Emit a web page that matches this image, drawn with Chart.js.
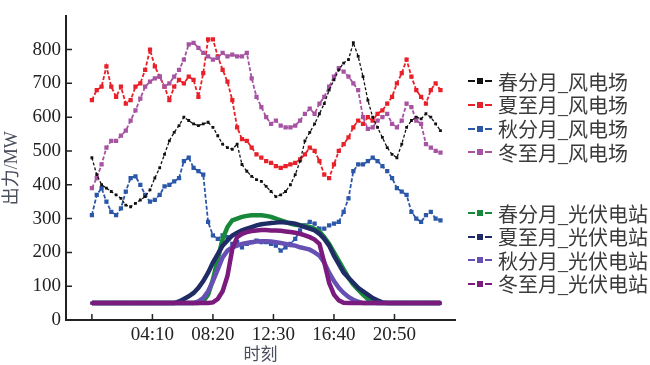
<!DOCTYPE html>
<html>
<head>
<meta charset="utf-8">
<script src="https://cdn.jsdelivr.net/npm/chart.js@4.4.1/dist/chart.umd.min.js"></script>
<style>
  html, body { margin: 0; padding: 0; background: #fff; }
  #wrap { position: relative; width: 650px; height: 365px; }
  #chart { position: absolute; left: 0; top: 0; }
  .row { position: absolute; left: 468px; height: 24px; display: flex; align-items: center;
         font: 20px "Liberation Serif", "Noto Sans CJK SC", serif; color: #3a3a3a; white-space: nowrap; }
  .sample { display: flex; align-items: center; width: 24px; margin-right: 6px; }
  .seg { width: 7px; height: 2px; }
  .dot { width: 6px; height: 6px; margin: 0 2px; }
</style>
</head>
<body>
<div id="wrap">
  <canvas id="chart" width="650" height="365"></canvas>
  <div id="legend"></div>
</div>
<script>
// time of day, 20 min steps
const times = [
  '00:00','00:20','00:40','01:00','01:20','01:40','02:00','02:20','02:40','03:00','03:20','03:40',
  '04:00','04:20','04:40','05:00','05:20','05:40','06:00','06:20','06:40','07:00','07:20','07:40',
  '08:00','08:20','08:40','09:00','09:20','09:40','10:00','10:20','10:40','11:00','11:20','11:40',
  '12:00','12:20','12:40','13:00','13:20','13:40','14:00','14:20','14:40','15:00','15:20','15:40',
  '16:00','16:20','16:40','17:00','17:20','17:40','18:00','18:20','18:40','19:00','19:20','19:40',
  '20:00','20:20','20:40','21:00','21:20','21:40','22:00','22:20','22:40','23:00','23:20','23:40',
  '24:00'
];
const tickLabels = ['00:00', '04:10', '08:20', '12:30', '16:40', '20:50'];
const yTicks = [0, 100, 200, 300, 400, 500, 600, 700, 800];

// wind farms (MW)
const springWind = [480,430,400,390,380,370,360,340,335,345,355,365,385,420,450,490,530,555,575,600,590,580,575,
  580,585,570,545,520,510,505,520,460,440,425,415,410,395,380,365,370,380,400,430,470,530,555,
  580,610,640,680,710,740,760,770,820,780,720,650,600,570,540,510,490,480,520,570,590,600,595,610,600,580,560];
const summerWind = [650,680,690,750,690,660,690,640,650,690,700,740,800,750,720,690,650,690,710,700,720,710,660,
  730,830,830,780,740,705,650,570,535,530,510,490,480,470,465,455,450,455,460,465,475,490,510,
  500,470,430,420,460,500,520,540,570,590,580,600,590,610,620,640,660,700,730,770,720,680,660,640,680,700,680];
const autumnWind = [310,370,390,350,320,310,330,380,420,425,400,370,350,355,370,395,400,410,420,470,480,450,440,
  430,290,250,240,250,245,225,230,215,225,230,235,230,230,225,220,205,215,225,240,265,280,290,
  285,270,270,280,285,290,320,360,440,460,460,470,480,470,455,440,420,390,380,370,320,300,290,310,320,300,295];
const winterWind = [390,420,460,510,530,530,545,560,590,620,655,690,705,715,720,690,700,720,740,770,815,820,805,
  790,780,770,775,790,780,785,780,780,790,715,660,630,600,580,590,575,570,570,575,590,610,625,
  610,640,660,690,720,745,735,720,700,680,600,565,570,590,600,610,580,570,590,640,630,590,580,520,510,500,495];

// PV stations (MW)
const springPV = [50,50,50,50,50,50,50,50,50,50,50,50,50,50,50,50,50,50,50,50,50,50,50,
  55,75,120,180,240,275,295,300,305,308,310,310,310,308,305,300,295,290,285,282,280,278,275,
  270,262,245,225,200,175,150,125,105,90,75,62,53,50,50,50,50,50,50,50,50,50,50,50,50,50,50];
const summerPV = [50,50,50,50,50,50,50,50,50,50,50,50,50,50,50,50,50,50,55,62,70,80,95,
  115,140,170,195,220,235,250,258,265,270,275,280,283,285,287,288,290,288,287,285,280,275,270,
  265,255,240,220,190,165,140,125,110,95,85,75,65,58,52,50,50,50,50,50,50,50,50,50,50,50,50];
const autumnPV = [50,50,50,50,50,50,50,50,50,50,50,50,50,50,50,50,50,50,50,50,50,50,55,
  65,85,115,150,185,205,215,220,225,228,230,232,233,233,232,230,228,225,222,220,215,212,208,
  200,190,170,140,115,95,80,68,60,54,50,50,50,50,50,50,50,50,50,50,50,50,50,50,50,50,50];
const winterPV = [50,50,50,50,50,50,50,50,50,50,50,50,50,50,50,50,50,50,50,50,50,50,50,50,50,
  52,62,85,130,210,245,255,260,263,265,266,266,265,265,264,262,260,258,255,250,245,
  238,225,170,110,75,58,51,50,50,50,50,50,50,50,50,50,50,50,50,50,50,50,50,50,50,50,50];

const windNames = ['春分月_风电场', '夏至月_风电场', '秋分月_风电场', '冬至月_风电场'];
const pvNames = ['春分月_光伏电站', '夏至月_光伏电站', '秋分月_光伏电站', '冬至月_光伏电站'];
const windColors = ['#111111', '#e8202a', '#2b57a9', '#a653a2'];
const pvColors = ['#18893a', '#1f2c66', '#6650b3', '#7a1b7d'];

function toMin(s) {
  const p = s.split(':');
  return parseInt(p[0]) * 60 + parseInt(p[1]);
}
const minutes = times.map(toMin);
const tickValues = tickLabels.map(toMin);

function pts(vals) {
  return vals.map((v, i) => ({ x: minutes[i], y: v }));
}

function windSet(label, vals, color, thin) {
  return {
    label: label, data: pts(vals), borderColor: color, backgroundColor: color,
    borderWidth: thin ? 1.3 : 1.8, borderDash: thin ? [3, 2] : [4, 2],
    pointStyle: 'rect', pointRadius: thin ? 2 : 3, pointBorderWidth: 0
  };
}
function pvSet(label, vals, color) {
  return {
    label: label, data: pts(vals), borderColor: color, backgroundColor: color,
    borderWidth: 4.5, pointStyle: 'rect', pointRadius: 2, pointBorderWidth: 0
  };
}

const innerTicks = {
  id: 'innerTicks',
  afterDraw(chart) {
    const { ctx, chartArea, scales } = chart;
    ctx.save();
    ctx.strokeStyle = '#222';
    ctx.lineWidth = 1.5;
    ctx.beginPath();
    scales.x.ticks.forEach(t => {
      const px = scales.x.getPixelForValue(t.value);
      ctx.moveTo(px, chartArea.bottom);
      ctx.lineTo(px, chartArea.bottom - 6);
    });
    scales.y.ticks.forEach(t => {
      const py = scales.y.getPixelForValue(t.value);
      ctx.moveTo(chartArea.left, py);
      ctx.lineTo(chartArea.left + 6, py);
    });
    ctx.stroke();
    ctx.restore();
  }
};

// first dataset ends up on top
new Chart(document.getElementById('chart'), {
  type: 'line',
  data: {
    datasets: [
      pvSet(pvNames[3], winterPV, pvColors[3]),
      pvSet(pvNames[2], autumnPV, pvColors[2]),
      pvSet(pvNames[1], summerPV, pvColors[1]),
      pvSet(pvNames[0], springPV, pvColors[0]),
      windSet(windNames[0], springWind, windColors[0], true),
      windSet(windNames[2], autumnWind, windColors[2]),
      windSet(windNames[3], winterWind, windColors[3]),
      windSet(windNames[1], summerWind, windColors[1])
    ]
  },
  options: {
    responsive: false,
    animation: false,
    layout: { padding: { top: 10, right: 195, left: 0, bottom: 0 } },
    plugins: { legend: { display: false }, tooltip: { enabled: false } },
    scales: {
      x: {
        type: 'linear', min: -107, max: 1500,
        afterBuildTicks: s => { s.ticks = tickValues.map(v => ({ value: v })); },
        afterFit: s => { s.height = 45; },
        ticks: {
          autoSkip: false, maxRotation: 0, padding: 4, color: '#222',
          font: { family: 'Liberation Serif', size: 19 },
          callback: (v) => {
            const i = tickValues.indexOf(v);
            return i > 0 ? tickLabels[i] : '';
          }
        },
        grid: { display: false, drawTicks: false },
        border: { display: true, color: '#222', width: 2 },
        title: {
          display: true, text: '时刻', color: '#4a4f5e',
          font: { family: 'Noto Sans CJK SC', size: 17 }, padding: { top: 0, bottom: 1 }
        }
      },
      y: {
        min: 0, max: 898,
        afterBuildTicks: s => { s.ticks = yTicks.map(v => ({ value: v })); },
        afterFit: s => { s.width = 66; },
        ticks: {
          autoSkip: false, padding: 5, color: '#222',
          font: { family: 'Liberation Serif', size: 19 }
        },
        grid: { display: false, drawTicks: false },
        border: { display: true, color: '#222', width: 2 },
        title: {
          display: true, text: '出力/MW', color: '#4a4f5e',
          font: { family: 'Liberation Serif, Noto Sans CJK SC', size: 18 }, padding: { top: 1, bottom: 0 }
        }
      }
    }
  },
  plugins: [innerTicks]
});

// legend, two groups at the right
const legend = document.getElementById('legend');
function addRow(name, color, top) {
  const row = document.createElement('div');
  row.className = 'row';
  row.style.top = top + 'px';
  row.innerHTML = '<span class="sample"><span class="seg" style="background:' + color + '"></span>' +
    '<span class="dot" style="background:' + color + '"></span>' +
    '<span class="seg" style="background:' + color + '"></span></span>' + name;
  legend.appendChild(row);
}
windNames.forEach((n, i) => addRow(n, windColors[i], 69 + i * 23.8));
pvNames.forEach((n, i) => addRow(n, pvColors[i], 201 + i * 23.5));
</script>
</body>
</html>
